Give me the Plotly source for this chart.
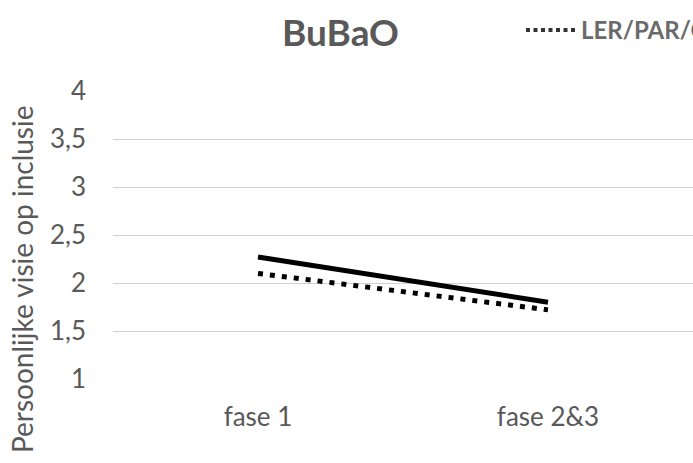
import plotly.graph_objects as go

categories = ["fase 1", "fase 2&3"]
solid_name = "BuBaO"
solid_values = [2.27, 1.80]
dotted_name = "LER/PAR/CO"
dotted_values = [2.10, 1.72]
y_tickvals = [1, 1.5, 2, 2.5, 3, 3.5, 4]
y_ticktext = ["1", "1,5", "2", "2,5", "3", "3,5", "4"]
title_text = "BuBaO"
y_title = "Persoonlijke visie op inclusie"

FONT = "Lato"
GREY = "#595959"

fig = go.Figure()
fig.add_trace(go.Scatter(x=categories, y=dotted_values, mode="lines", name=dotted_name,
                         line=dict(color="black", width=5, dash="5px,7px"), showlegend=False))
fig.add_trace(go.Scatter(x=categories, y=solid_values, mode="lines", name=solid_name,
                         line=dict(color="black", width=5), showlegend=False))

W, H = 693, 463
L, R, T, B = 113, 0, 91, 84
pw, ph = W - L - R, H - T - B

def px(x):
    return (x - L) / pw

def py(y):
    return (H - B - y) / ph

fig.update_layout(
    width=W, height=H,
    margin=dict(l=L, r=R, t=T, b=B),
    paper_bgcolor="white", plot_bgcolor="white",
    font=dict(family=FONT, color=GREY, size=26),
    xaxis=dict(type="category", range=[-0.5, 1.5], showgrid=False, zeroline=False,
               showline=False, ticks="", ticklabelstandoff=20, tickfont=dict(size=26)),
    yaxis=dict(range=[1, 4], tickvals=y_tickvals, ticktext=y_ticktext, showgrid=True,
               gridcolor="#d0d0d0", gridwidth=1, zeroline=False, showline=False, ticks="",
               ticklabelstandoff=26, tickfont=dict(size=26)),
    showlegend=False,
)

# title
fig.add_annotation(text="<b>" + title_text + "</b>", x=px(340), y=py(31), xref="paper", yref="paper",
                   xanchor="center", yanchor="middle", showarrow=False,
                   font=dict(size=37, color=GREY, family=FONT))
# y axis title
fig.add_annotation(text=y_title, x=px(22), y=py(280), xref="paper", yref="paper",
                   xanchor="center", yanchor="middle", textangle=-90, showarrow=False,
                   font=dict(size=28, color=GREY, family=FONT))
# legend (cropped at the right edge, as in the reference)
fig.add_shape(type="line", xref="paper", yref="paper", x0=px(526), x1=px(577), y0=py(30), y1=py(30),
              line=dict(color="#333333", width=4, dash="4px,3.5px"))
fig.add_annotation(text="<b>" + dotted_name + "</b>", x=px(579), y=py(30), xref="paper", yref="paper",
                   xanchor="left", yanchor="middle", showarrow=False,
                   font=dict(size=24, color="#6a6a6a", family=FONT))

fig.write_html("out.html", config={"displayModeBar": False},
               post_script="document.body.style.margin='0';")
